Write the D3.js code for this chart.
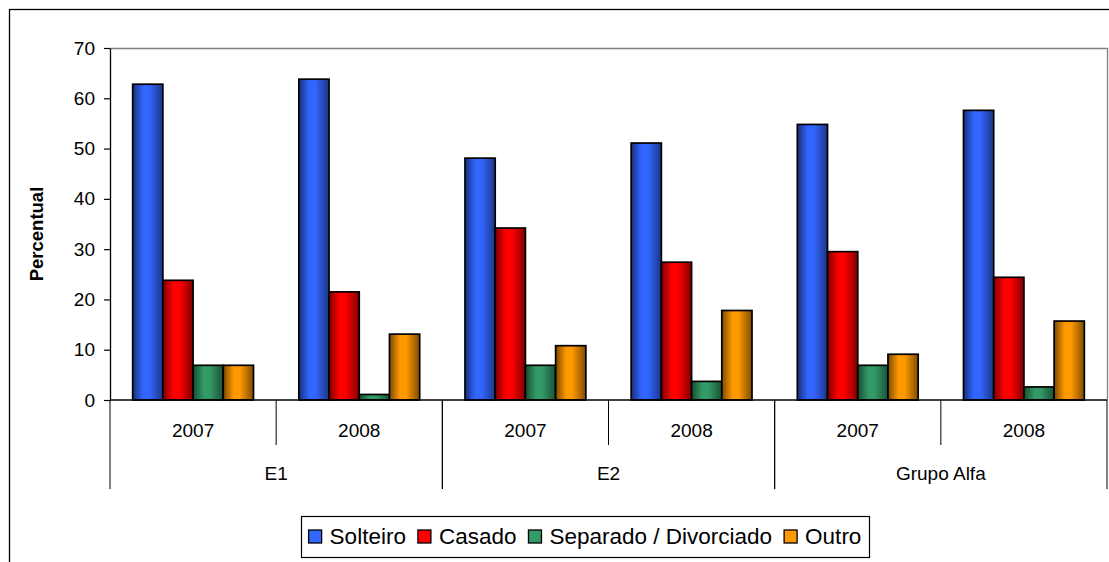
<!DOCTYPE html>
<html>
<head>
<meta charset="utf-8">
<script src="https://cdn.jsdelivr.net/npm/d3@7"></script>
<style>
  html, body { margin: 0; padding: 0; background: #fff; }
  svg { display: block; font-family: "Liberation Sans", Arial, sans-serif; }
</style>
</head>
<body>
<svg id="chart" width="1109" height="562"></svg>
<script>
// Estado civil por grupo e ano (percentual)
const groups = ["E1", "E2", "Grupo Alfa"];
const years = ["2007", "2008"];
const seriesNames = ["Solteiro", "Casado", "Separado / Divorciado", "Outro"];
const solteiro = [62.8, 63.8, 48.1, 51.1, 54.8, 57.6];
const casado   = [23.8, 21.5, 34.2, 27.4, 29.5, 24.4];
const separado = [6.9, 1.1, 6.9, 3.7, 6.9, 2.6];
const outro    = [6.9, 13.1, 10.8, 17.8, 9.1, 15.7];
const yTicks = [0, 10, 20, 30, 40, 50, 60, 70];

const seriesValues = [solteiro, casado, separado, outro];
// gradient stops per series: left edge (dark), centre (bright), right edge (dark)
const palette = [
  { dark: "#17307a", mid: "#3366ff", end: "#1b3585" },
  { dark: "#7a0000", mid: "#ff0000", end: "#800000" },
  { dark: "#164d31", mid: "#339966", end: "#1a5236" },
  { dark: "#7a4900", mid: "#ff9900", end: "#7f4c00" }
];

const categories = [];
groups.forEach(g => years.forEach(y => categories.push({ group: g, year: y, key: g + "|" + y })));

const svg = d3.select("#chart");
const W = 1109, H = 562;
const plot = { left: 110, right: 1107, top: 48, bottom: 400 };

// outer chart frame
svg.append("rect")
  .attr("x", 9.5).attr("y", 9.5)
  .attr("width", W + 20).attr("height", H + 20)
  .attr("fill", "#fff").attr("stroke", "#000").attr("stroke-width", 1.3);

// gradients
const defs = svg.append("defs");
palette.forEach((p, i) => {
  const g = defs.append("linearGradient").attr("id", "grad" + i)
    .attr("x1", "0%").attr("x2", "100%").attr("y1", "0%").attr("y2", "0%");
  g.append("stop").attr("offset", "0%").attr("stop-color", p.dark);
  g.append("stop").attr("offset", "35%").attr("stop-color", p.mid);
  g.append("stop").attr("offset", "55%").attr("stop-color", p.mid);
  g.append("stop").attr("offset", "100%").attr("stop-color", p.end);
});

const x = d3.scaleBand().domain(categories.map(c => c.key)).range([plot.left, plot.right]).padding(0);
const xs = d3.scaleBand().domain(seriesNames).range([0, x.bandwidth()]).paddingInner(0).paddingOuter(0.75);
const y = d3.scaleLinear().domain([0, 70]).range([plot.bottom, plot.top]);

// plot area border (top, right)
svg.append("path")
  .attr("d", `M${plot.left},${plot.top + 0.5}H${plot.right + 0.5}V${plot.bottom}`)
  .attr("fill", "none").attr("stroke", "#808080").attr("stroke-width", 1.3);

// bars
categories.forEach((c, ci) => {
  seriesNames.forEach((s, si) => {
    const v = seriesValues[si][ci];
    svg.append("rect")
      .attr("x", x(c.key) + xs(s))
      .attr("y", y(v))
      .attr("width", xs.bandwidth())
      .attr("height", y(0) - y(v))
      .attr("fill", `url(#grad${si})`)
      .attr("stroke", "#000").attr("stroke-width", 1.7);
  });
});

// value axis
const yAxis = d3.axisLeft(y).tickValues(yTicks).tickSize(6).tickSizeOuter(0).tickPadding(9);
const yg = svg.append("g").attr("transform", `translate(${plot.left},0)`).call(yAxis);
yg.select(".domain").attr("stroke", "#000").attr("stroke-width", 1.3);
yg.selectAll(".tick line").attr("stroke", "#000").attr("stroke-width", 1.2);
yg.selectAll(".tick text")
  .attr("font-size", 19).attr("fill", "#000")
  .attr("font-family", "'Liberation Sans', Arial, sans-serif");

// category axis baseline
svg.append("line")
  .attr("x1", plot.left).attr("x2", plot.right)
  .attr("y1", plot.bottom).attr("y2", plot.bottom)
  .attr("stroke", "#000").attr("stroke-width", 1.3);

// year dividers and labels
categories.forEach((c, i) => {
  const x0 = x(c.key);
  if (i % 2 === 1) {
    svg.append("line").attr("x1", x0).attr("x2", x0)
      .attr("y1", plot.bottom).attr("y2", 445)
      .attr("stroke", "#000").attr("stroke-width", 1);
  }
  svg.append("text")
    .attr("x", x0 + x.bandwidth() / 2).attr("y", 437)
    .attr("text-anchor", "middle").attr("font-size", 19).attr("fill", "#000")
    .text(c.year);
});

// group dividers and labels
groups.forEach((g, gi) => {
  const x0 = x(g + "|" + years[0]);
  const x1 = x(g + "|" + years[years.length - 1]) + x.bandwidth();
  svg.append("text")
    .attr("x", (x0 + x1) / 2).attr("y", 480)
    .attr("text-anchor", "middle").attr("font-size", 19).attr("fill", "#000")
    .text(g);
  [x0, x1].forEach(xx => {
    svg.append("line").attr("x1", xx).attr("x2", xx)
      .attr("y1", plot.bottom).attr("y2", 489)
      .attr("stroke", "#000").attr("stroke-width", 1);
  });
});

// axis title
svg.append("text")
  .attr("transform", `translate(43,${(plot.top + plot.bottom) / 2 + 10}) rotate(-90)`)
  .attr("text-anchor", "middle").attr("font-size", 18.5).attr("font-weight", "bold")
  .attr("fill", "#000")
  .text("Percentual");

// legend
const legend = svg.append("g");
const lgFont = 22.5, sw = 13, gapSwText = 8, gapItem = 12;
const boxX = 301, boxRight = 869, boxY = 516, boxH = 41;
legend.append("rect")
  .attr("x", boxX + 0.5).attr("y", boxY + 0.5)
  .attr("width", boxRight - boxX).attr("height", boxH)
  .attr("fill", "#fff").attr("stroke", "#000").attr("stroke-width", 1.2);
let cx = 0;
const items = [];
seriesNames.forEach((s, i) => {
  const t = legend.append("text").attr("font-size", lgFont).attr("fill", "#000").text(s);
  const w = t.node().getComputedTextLength();
  items.push({ t, i, start: cx, w });
  cx += sw + gapSwText + w + gapItem;
});
const totalW = cx - gapItem;
const startX = boxX + ((boxRight - boxX) - totalW) / 2;
items.forEach(it => {
  const sx = startX + it.start;
  legend.append("rect")
    .attr("x", sx).attr("y", 530)
    .attr("width", sw).attr("height", sw)
    .attr("fill", palette[it.i].mid).attr("stroke", "#000").attr("stroke-width", 1.3);
  it.t.attr("x", sx + sw + gapSwText).attr("y", 544);
});
</script>
</body>
</html>
